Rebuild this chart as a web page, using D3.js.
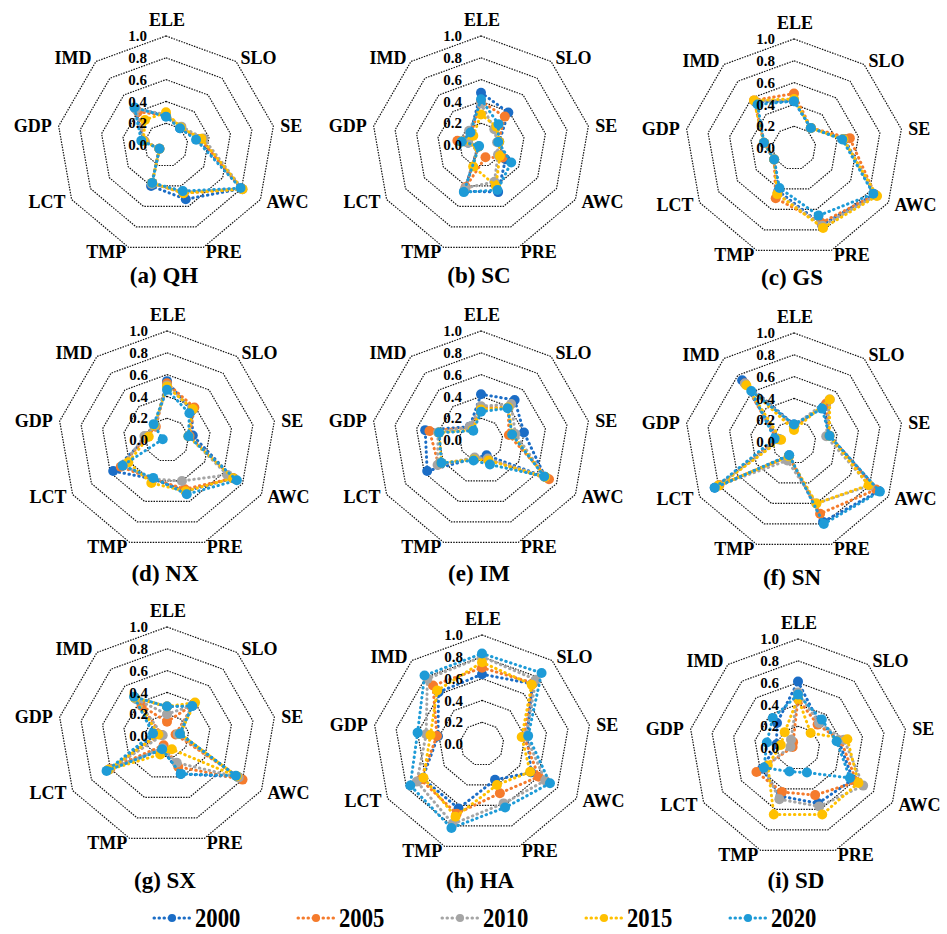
<!DOCTYPE html>
<html lang="en">
<head>
<meta charset="UTF-8">
<title>Radar charts</title>
<script src="https://cdn.jsdelivr.net/npm/d3@7"></script>
<style>
  * { margin: 0; padding: 0; }
  body { background: #fff; }
</style>
</head>
<body>
<div id="content"></div>
<script>
// categories and series
var axes = ["ELE", "SLO", "SE", "AWC", "PRE", "TMP", "LCT", "GDP", "IMD"];
var years = ["2000", "2005", "2010", "2015", "2020"];
var colors = ["#1b6dc6", "#f57b2c", "#a5a5a5", "#ffc000", "#1e9bd7"];
var ticks = [0, 0.2, 0.4, 0.6, 0.8, 1.0];

// values per region: one row per year, columns in axes order
var qh = [
  [0.27, 0.20, 0.30, 0.80, 0.53, 0.40, 0.07, 0.21, 0.44],
  [0.27, 0.21, 0.32, 0.80, 0.47, 0.37, 0.07, 0.20, 0.40],
  [0.28, 0.22, 0.35, 0.81, 0.46, 0.38, 0.07, 0.20, 0.43],
  [0.30, 0.21, 0.33, 0.81, 0.47, 0.37, 0.07, 0.21, 0.30],
  [0.26, 0.20, 0.28, 0.79, 0.45, 0.37, 0.07, 0.23, 0.45]
];
var sc = [
  [0.48, 0.39, 0.17, 0.26, 0.46, 0.45, 0.03, 0.12, 0.15],
  [0.40, 0.34, 0.16, 0.23, 0.12, 0.41, 0.03, 0.22, 0.14],
  [0.38, 0.19, 0.15, 0.18, 0.36, 0.42, 0.03, 0.12, 0.17],
  [0.28, 0.22, 0.17, 0.20, 0.40, 0.21, 0.03, 0.18, 0.11],
  [0.42, 0.25, 0.16, 0.32, 0.44, 0.46, 0.02, 0.18, 0.15]
];
var gs = [
  [0.43, 0.24, 0.47, 0.85, 0.75, 0.42, 0.21, 0.28, 0.55],
  [0.50, 0.24, 0.52, 0.86, 0.73, 0.49, 0.21, 0.28, 0.57],
  [0.44, 0.24, 0.46, 0.87, 0.76, 0.44, 0.21, 0.28, 0.56],
  [0.45, 0.24, 0.46, 0.88, 0.78, 0.45, 0.21, 0.28, 0.57],
  [0.43, 0.24, 0.45, 0.84, 0.66, 0.39, 0.21, 0.28, 0.52]
];
var nx = [
  [0.54, 0.35, 0.24, 0.70, 0.50, 0.38, 0.57, 0.18, 0.17],
  [0.52, 0.39, 0.21, 0.70, 0.48, 0.38, 0.49, 0.19, 0.16],
  [0.50, 0.36, 0.20, 0.64, 0.40, 0.38, 0.47, 0.21, 0.17],
  [0.49, 0.37, 0.20, 0.70, 0.50, 0.42, 0.41, 0.17, 0.18],
  [0.46, 0.32, 0.20, 0.74, 0.53, 0.37, 0.47, 0.04, 0.19]
];
var im = [
  [0.42, 0.48, 0.40, 0.68, 0.15, 0.18, 0.57, 0.52, 0.16],
  [0.30, 0.39, 0.26, 0.72, 0.19, 0.18, 0.45, 0.48, 0.15],
  [0.31, 0.43, 0.32, 0.68, 0.18, 0.17, 0.46, 0.40, 0.16],
  [0.28, 0.39, 0.29, 0.68, 0.20, 0.19, 0.42, 0.39, 0.12],
  [0.26, 0.38, 0.29, 0.67, 0.24, 0.20, 0.42, 0.39, 0.11]
];
var sn = [
  [0.16, 0.42, 0.33, 0.90, 0.78, 0.13, 0.84, 0.14, 0.74],
  [0.14, 0.46, 0.33, 0.87, 0.70, 0.14, 0.79, 0.16, 0.70],
  [0.15, 0.51, 0.30, 0.80, 0.60, 0.18, 0.80, 0.13, 0.70],
  [0.11, 0.51, 0.33, 0.79, 0.60, 0.14, 0.80, 0.12, 0.68],
  [0.16, 0.40, 0.33, 0.91, 0.80, 0.13, 0.84, 0.18, 0.61]
];
var sx = [
  [0.27, 0.36, 0.12, 0.75, 0.37, 0.13, 0.62, 0.10, 0.46],
  [0.13, 0.38, 0.08, 0.80, 0.30, 0.09, 0.60, 0.05, 0.36],
  [0.20, 0.37, 0.10, 0.76, 0.26, 0.12, 0.61, 0.04, 0.44],
  [0.27, 0.40, 0.12, 0.74, 0.13, 0.18, 0.62, 0.08, 0.46],
  [0.27, 0.36, 0.12, 0.73, 0.37, 0.13, 0.64, 0.13, 0.47]
];
var ha = [
  [0.64, 0.72, 0.42, 0.52, 0.35, 0.63, 0.63, 0.41, 0.62],
  [0.70, 0.73, 0.39, 0.60, 0.48, 0.68, 0.65, 0.42, 0.70],
  [0.80, 0.77, 0.41, 0.67, 0.58, 0.78, 0.69, 0.52, 0.78],
  [0.75, 0.71, 0.37, 0.51, 0.40, 0.71, 0.62, 0.48, 0.64],
  [0.83, 0.85, 0.43, 0.72, 0.62, 0.82, 0.76, 0.60, 0.82]
];
var sd = [
  [0.61, 0.30, 0.38, 0.58, 0.54, 0.47, 0.38, 0.20, 0.30],
  [0.45, 0.28, 0.40, 0.62, 0.46, 0.43, 0.44, 0.05, 0.07],
  [0.51, 0.30, 0.43, 0.69, 0.57, 0.50, 0.36, 0.07, 0.10],
  [0.46, 0.18, 0.46, 0.64, 0.65, 0.65, 0.32, 0.16, 0.19],
  [0.49, 0.34, 0.36, 0.55, 0.24, 0.23, 0.36, 0.29, 0.36]
];

var titles = ["(a) QH", "(b) SC", "(c) GS", "(d) NX", "(e) IM", "(f) SN", "(g) SX", "(h) HA", "(i) SD"];
var regionData = [qh, sc, gs, nx, im, sn, sx, ha, sd];

// layout (centres of each radar and title baselines)
var centers = [[166, 145], [481, 145], [794, 148],
               [167, 440], [481, 440], [794, 442],
               [167, 736], [482, 744], [798, 748]];
var titleY = [283, 283, 285, 581, 581, 585, 888, 888, 888];
var R = 109;
var serif = "'Liberation Serif', 'Times New Roman', serif";

var width = 947, height = 934;
var svg = d3.select("#content").append("svg")
    .attr("width", width).attr("height", height);

function label(sel, size){
    return sel.style("font-family", serif)
        .style("font-weight", "bold")
        .style("font-size", size + "px")
        .attr("fill", "#000");
}

var rScale = d3.scaleLinear().domain([0, 1]).range([0, R]);
var aScale = d3.scaleLinear().domain([0, axes.length]).range([0, 2 * Math.PI]);

var radial = d3.lineRadial()
    .angle(function(d, i){ return aScale(i); })
    .radius(function(d){ return rScale(d); })
    .curve(d3.curveLinearClosed);

function drawRadar(k){
    var cx = centers[k][0], cy = centers[k][1];
    var g = svg.append("g").attr("transform", "translate(" + cx + "," + cy + ")");

    // rings
    g.selectAll("path.ring").data(ticks.slice(1)).enter().append("path")
        .attr("class", "ring")
        .attr("d", function(t){ return radial(axes.map(function(){ return t; })); })
        .attr("fill", "none")
        .attr("stroke", "#111")
        .attr("stroke-width", 1.2)
        .attr("stroke-dasharray", "1.5 1.2");

    // axis labels
    axes.forEach(function(name, i){
        var a = aScale(i);
        var dx = Math.sin(a), dy = -Math.cos(a);
        var vx = dx * rScale(1), vy = dy * rScale(1);
        var t = label(g.append("text").text(name), 18);
        if (i === 0) {
            t.attr("x", vx + 1).attr("y", vy - 10).attr("text-anchor", "middle");
        } else {
            t.attr("x", vx + dx * 7).attr("y", vy + dy * 5)
             .attr("dy", "0.35em")
             .attr("text-anchor", dx > 0 ? "start" : "end");
        }
    });

    // series
    years.forEach(function(y, s){
        var vals = regionData[k][s];
        g.append("path")
            .attr("d", radial(vals))
            .attr("fill", "none")
            .attr("stroke", colors[s])
            .attr("stroke-width", 3)
            .attr("stroke-linecap", "round")
            .attr("stroke-dasharray", "0.5 4.5");
        g.selectAll("circle.s" + s).data(vals).enter().append("circle")
            .attr("class", "s" + s)
            .attr("cx", function(d, i){ return Math.sin(aScale(i)) * rScale(d); })
            .attr("cy", function(d, i){ return -Math.cos(aScale(i)) * rScale(d); })
            .attr("r", 5)
            .attr("fill", colors[s]);
    });

    // tick labels
    label(g.selectAll("text.tick").data(ticks).enter().append("text"), 15)
        .attr("class", "tick")
        .attr("x", -19)
        .attr("y", function(t){ return -rScale(t); })
        .attr("dy", "0.35em")
        .attr("text-anchor", "end")
        .text(d3.format(".1f"));

    label(svg.append("text"), 23)
        .attr("x", cx - 2).attr("y", titleY[k])
        .attr("text-anchor", "middle")
        .text(titles[k]);
}

for (var k = 0; k < titles.length; k++) drawRadar(k);

// legend
var legX = d3.scaleLinear().domain([0, years.length - 1]).range([154, 730]);
var leg = svg.append("g");
years.forEach(function(y, s){
    var x0 = legX(s), ly = 918;
    leg.append("line")
        .attr("x1", x0).attr("x2", x0 + 36)
        .attr("y1", ly).attr("y2", ly)
        .attr("stroke", colors[s])
        .attr("stroke-width", 3)
        .attr("stroke-linecap", "round")
        .attr("stroke-dasharray", "0.5 4.5");
    leg.append("circle").attr("cx", x0 + 18).attr("cy", ly).attr("r", 4).attr("fill", colors[s]);
    label(leg.append("text"), 27)
        .attr("transform", "translate(" + (x0 + 41) + ",927) scale(0.84,1)")
        .text(y);
});
</script>
</body>
</html>
